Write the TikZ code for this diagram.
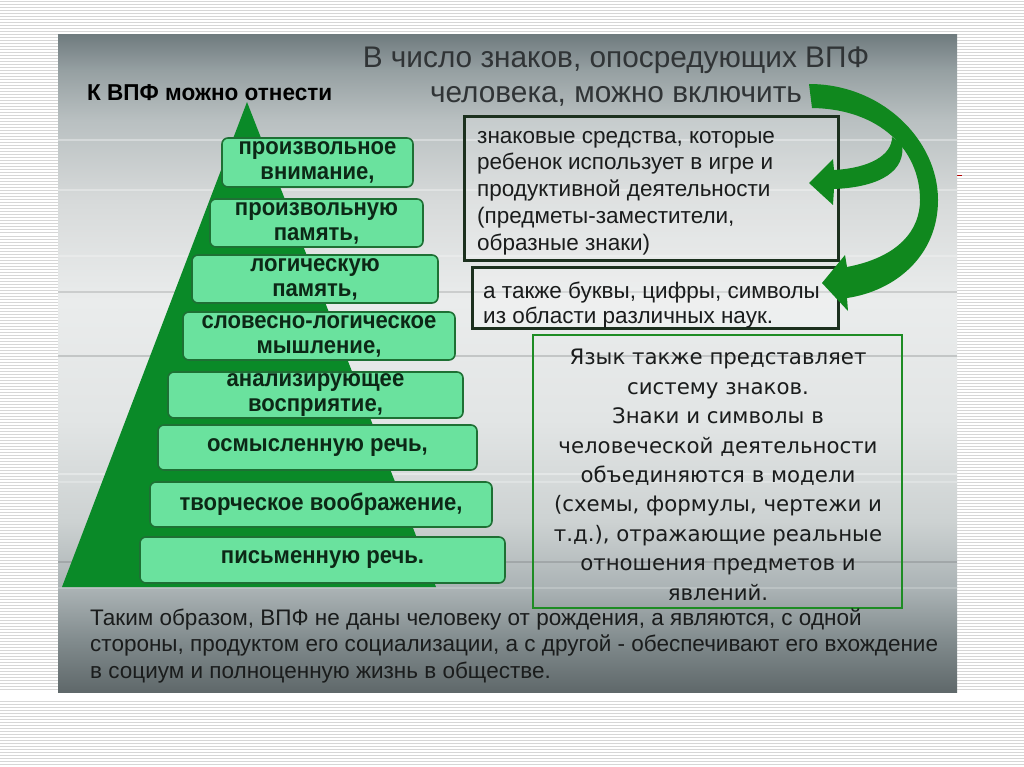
\documentclass[tikz,border=0pt]{standalone}
\usepackage{fontspec}
\setmainfont{Liberation Sans}
\newfontfamily\levelfont[FakeStretch=0.92]{Liberation Sans}
\newfontfamily\titlefont[FakeStretch=0.98]{Liberation Sans}
\newfontfamily\modelfont{DejaVu Sans}
\usetikzlibrary{positioning}

\definecolor{stripegray}{RGB}{214,214,214}
\definecolor{pyramidgreen}{RGB}{10,138,40}
\definecolor{levelfill}{RGB}{106,226,158}
\definecolor{leveledge}{RGB}{30,112,52}
\definecolor{leveltext}{RGB}{12,40,22}
\definecolor{arrowgreen}{RGB}{16,136,30}
\definecolor{signedge}{RGB}{28,48,30}
\definecolor{modeledge}{RGB}{30,140,36}
\definecolor{headgray}{RGB}{48,52,54}
\definecolor{bodytext}{RGB}{26,28,28}

% panel colours, bottom to top
\definecolor{pa}{RGB}{95,104,106}
\definecolor{pb}{RGB}{130,140,142}
\definecolor{pc}{RGB}{170,178,180}
\definecolor{pd}{RGB}{205,210,210}
\definecolor{pe}{RGB}{226,229,229}
\definecolor{pf}{RGB}{234,236,236}
\definecolor{pg}{RGB}{215,218,218}
\definecolor{ph}{RGB}{185,192,193}
\definecolor{pi}{RGB}{150,160,162}
\definecolor{pj}{RGB}{112,124,127}
\pgfdeclareverticalshading{panelshade}{100bp}{color(0bp)=(pa); color(25bp)=(pa);
  color(29bp)=(pb); color(32.8bp)=(pc); color(38bp)=(pd); color(45.7bp)=(pe);
  color(54.8bp)=(pf); color(62.4bp)=(pg); color(68.5bp)=(ph); color(72.3bp)=(pi);
  color(75bp)=(pj); color(100bp)=(pj)}

\tikzset{
  stripe/.style={draw=stripegray, line width=1pt},
  level/.style={draw=leveledge, fill=levelfill, line width=1.6pt, rounded corners=6pt,
    align=center, text=leveltext, inner sep=0pt,
    font=\levelfont\bfseries\fontsize{24}{25}\selectfont},
  signbox/.style={draw=signedge, line width=3pt, fill=white, fill opacity=0.2, inner sep=0pt},
  signtext/.style={anchor=base west, align=left, inner sep=0pt, text=bodytext,
    font=\fontsize{22.5}{26.7}\selectfont},
  modelbox/.style={draw=modeledge, line width=2.5pt, inner sep=0pt},
  modeltext/.style={anchor=base, align=center, inner sep=0pt, text=bodytext,
    font=\modelfont\fontsize{21.3}{29.4}\selectfont},
}

\begin{document}
\begin{tikzpicture}[x=1pt,y=-1pt]
  \useasboundingbox (0,0) rectangle (1024,767);
  \fill[white] (0,0) rectangle (1024,767);

  % striped slide background
  \foreach \y in {2,5,...,767}
    \draw[stripe] (0,\y) -- (1024,\y);
  \fill[white] (0,692) rectangle (1024,700);
  \draw[red!70!black, line width=1pt] (955,176) -- (962,176);

  % grey panel
  \shade[shading=panelshade] (58,35) rectangle (957,692);
  \foreach \y/\o in {140/0.35, 190/0.3, 256/0.25, 474/0.35, 482/0.25, 588/0.2}
    \draw[white, opacity=\o, line width=2pt] (58,\y) -- (957,\y);
  \foreach \y/\o in {292/0.12, 356/0.15, 562/0.12}
    \draw[black, opacity=\o, line width=1.5pt] (58,\y) -- (957,\y);

  % headings (base = last line)
  \node[anchor=base west, inner sep=0pt, text=black,
        font=\titlefont\bfseries\fontsize{23}{26}\selectfont] (lefttitle) at (87,101) {К ВПФ можно отнести};
  \node[anchor=base, align=center, inner sep=0pt, text=headgray,
        font=\fontsize{29.8}{35}\selectfont] (heading) at (616,103)
        {В число знаков, опосредующих ВПФ\\человека, можно включить};

  % pyramid
  \fill[pyramidgreen] (247,102) -- (436,587) -- (62,587) -- cycle;

  % levels of the pyramid
  \node[level, minimum width=191pt, minimum height=49pt] (attention) at (317.5,162.5) {произвольное\\внимание,};
  \node[level, minimum width=213pt, minimum height=48pt] (memory) at (316.5,223) {произвольную\\память,};
  \node[level, minimum width=246pt, minimum height=48pt] (logicmemory) at (315,279) {логическую\\память,};
  \node[level, minimum width=272pt, minimum height=48pt] (thinking) at (319,336) {словесно-логическое\\мышление,};
  \node[level, minimum width=295pt, minimum height=46pt] (perception) at (315.5,395) {анализирующее\\восприятие,};
  \node[level, minimum width=319pt, minimum height=45pt] (speech) at (317.5,447.5) {осмысленную речь,};
  \node[level, minimum width=342pt, minimum height=45pt] (imagination) at (321,504.5) {творческое воображение,};
  \node[level, minimum width=365pt, minimum height=46pt] (writing) at (322.5,560) {письменную речь.};

  % sign boxes
  \node[signbox, minimum width=374pt, minimum height=143pt] (signs) at (651,188.5) {};
  \node[signtext] (signstext) at (477,250)
    {знаковые средства, которые\\ребенок использует в игре и\\продуктивной деятельности\\(предметы-заместители,\\образные знаки)};
  \node[signbox, minimum width=366pt, minimum height=61pt] (letters) at (655,297.5) {};
  \node[signtext, font=\fontsize{22.5}{25}\selectfont] (letterstext) at (483,323)
    {а также буквы, цифры, символы\\из области различных наук.};

  % language box
  \node[modelbox, minimum width=369pt, minimum height=273pt] (model) at (717.5,471.5) {};
  \node[modeltext] (modeltxt) at (718,600)
    {Язык также представляет\\систему знаков.\\Знаки и символы в\\человеческой деятельности\\объединяются в модели\\(схемы, формулы, чертежи и\\т.д.), отражающие реальные\\отношения предметов и\\явлений.};

  % conclusion
  \node[signtext, font=\fontsize{22.5}{26.5}\selectfont] (summary) at (90,678)
    {Таким образом, ВПФ не даны человеку от рождения, а являются, с одной\\стороны, продуктом его социализации, а с другой - обеспечивают его вхождение\\в социум и полноценную жизнь в обществе.};

  % green arrows
  \fill[arrowgreen]
    (809,84) .. controls (882,84) and (938,140) .. (938,200)   % outer edge
    .. controls (938,256) and (895,291) .. (847,298)
    -- (848,311) -- (822,283) -- (845,255) -- (847,267)          % arrow head
    .. controls (899,257) and (920,230) .. (920,200)             % inner edge
    .. controls (920,150) and (880,109) .. (812,108)
    -- cycle;
  \fill[arrowgreen]
    (892,137) .. controls (892,155) and (870,168) .. (834,170)
    -- (833,159) -- (809,183) -- (833,205) -- (834,189)
    .. controls (882,187) and (906,170) .. (902,144)
    -- cycle;
\end{tikzpicture}
\end{document}
